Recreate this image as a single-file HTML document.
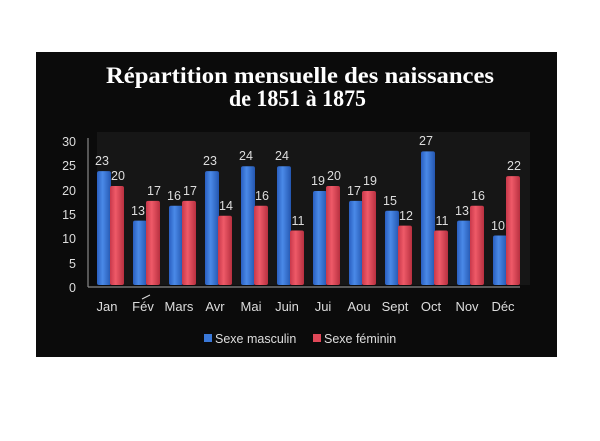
<!DOCTYPE html>
<html><head><meta charset="utf-8"><style>
body{margin:0;background:#fff;width:600px;height:436px;overflow:hidden}
</style></head><body>
<svg width="600" height="436" xmlns="http://www.w3.org/2000/svg">
<defs>
<linearGradient id="b" x1="0" x2="1"><stop offset="0" stop-color="#2a5fc0"/><stop offset="0.4" stop-color="#4a8ae8"/><stop offset="1" stop-color="#2456b0"/></linearGradient>
<linearGradient id="r" x1="0" x2="1"><stop offset="0" stop-color="#c8384a"/><stop offset="0.4" stop-color="#ef5a68"/><stop offset="1" stop-color="#b83040"/></linearGradient>
</defs>
<rect x="36" y="52" width="521" height="305" fill="#0b0b0b"/>
<rect x="97" y="132" width="433" height="153" fill="#161616"/>
<text x="106" y="83" textLength="388" lengthAdjust="spacingAndGlyphs" font-family="Liberation Serif" font-weight="bold" font-size="23" fill="#fff">Répartition mensuelle des naissances</text>
<text x="229" y="106" textLength="137" lengthAdjust="spacingAndGlyphs" font-family="Liberation Serif" font-weight="bold" font-size="23" fill="#fff">de 1851 à 1875</text>
<g font-family="Liberation Sans" font-size="12.5" fill="#ddd" text-anchor="end">
<text x="76" y="146">30</text><text x="76" y="170">25</text><text x="76" y="195">20</text><text x="76" y="219">15</text><text x="76" y="243">10</text><text x="76" y="268">5</text><text x="76" y="292">0</text>
</g>
<line x1="88" y1="138" x2="88" y2="287" stroke="#888" stroke-width="1.2"/>
<line x1="88" y1="287" x2="520" y2="287" stroke="#888" stroke-width="1.2"/>
<g>
<rect x="97" y="171.15" width="14" height="113.85" rx="2" fill="url(#b)"/>
<rect x="110" y="186" width="14" height="99" rx="2" fill="url(#r)"/>
<rect x="133" y="220.65" width="14" height="64.35" rx="2" fill="url(#b)"/>
<rect x="146" y="200.85" width="14" height="84.15" rx="2" fill="url(#r)"/>
<rect x="169" y="205.8" width="14" height="79.2" rx="2" fill="url(#b)"/>
<rect x="182" y="200.85" width="14" height="84.15" rx="2" fill="url(#r)"/>
<rect x="205" y="171.15" width="14" height="113.85" rx="2" fill="url(#b)"/>
<rect x="218" y="215.7" width="14" height="69.3" rx="2" fill="url(#r)"/>
<rect x="241" y="166.2" width="14" height="118.8" rx="2" fill="url(#b)"/>
<rect x="254" y="205.8" width="14" height="79.2" rx="2" fill="url(#r)"/>
<rect x="277" y="166.2" width="14" height="118.8" rx="2" fill="url(#b)"/>
<rect x="290" y="230.55" width="14" height="54.45" rx="2" fill="url(#r)"/>
<rect x="313" y="190.95" width="14" height="94.05" rx="2" fill="url(#b)"/>
<rect x="326" y="186" width="14" height="99" rx="2" fill="url(#r)"/>
<rect x="349" y="200.85" width="14" height="84.15" rx="2" fill="url(#b)"/>
<rect x="362" y="190.95" width="14" height="94.05" rx="2" fill="url(#r)"/>
<rect x="385" y="210.75" width="14" height="74.25" rx="2" fill="url(#b)"/>
<rect x="398" y="225.6" width="14" height="59.4" rx="2" fill="url(#r)"/>
<rect x="421" y="151.35" width="14" height="133.65" rx="2" fill="url(#b)"/>
<rect x="434" y="230.55" width="14" height="54.45" rx="2" fill="url(#r)"/>
<rect x="457" y="220.65" width="14" height="64.35" rx="2" fill="url(#b)"/>
<rect x="470" y="205.8" width="14" height="79.2" rx="2" fill="url(#r)"/>
<rect x="493" y="235.5" width="14" height="49.5" rx="2" fill="url(#b)"/>
<rect x="506" y="176.1" width="14" height="108.9" rx="2" fill="url(#r)"/>
</g>
<g font-family="Liberation Sans" font-size="12.5" fill="#ddd" text-anchor="middle">
<text x="102" y="165">23</text><text x="118" y="180">20</text>
<text x="138" y="215">13</text><text x="154" y="195">17</text>
<text x="174" y="200">16</text><text x="190" y="195">17</text>
<text x="210" y="165">23</text><text x="226" y="210">14</text>
<text x="246" y="160">24</text><text x="262" y="200">16</text>
<text x="282" y="160">24</text><text x="298" y="225">11</text>
<text x="318" y="185">19</text><text x="334" y="180">20</text>
<text x="354" y="195">17</text><text x="370" y="185">19</text>
<text x="390" y="205">15</text><text x="406" y="220">12</text>
<text x="426" y="145">27</text><text x="442" y="225">11</text>
<text x="462" y="215">13</text><text x="478" y="200">16</text>
<text x="498" y="230">10</text><text x="514" y="170">22</text>
</g>
<g font-family="Liberation Sans" font-size="13" fill="#ddd" text-anchor="middle">
<text x="107" y="311">Jan</text><text x="143" y="311">Fév</text><text x="179" y="311">Mars</text><text x="215" y="311">Avr</text><text x="251" y="311">Mai</text><text x="287" y="311">Juin</text><text x="323" y="311">Jui</text><text x="359" y="311">Aou</text><text x="395" y="311">Sept</text><text x="431" y="311">Oct</text><text x="467" y="311">Nov</text><text x="503" y="311">Déc</text>
</g>
<rect x="204" y="334" width="8" height="8" fill="#3a78d8"/>
<text x="215" y="343" font-family="Liberation Sans" font-size="12.5" fill="#ddd">Sexe masculin</text>
<rect x="313" y="334" width="8" height="8" fill="#e04858"/>
<text x="324" y="343" font-family="Liberation Sans" font-size="12.5" fill="#ddd">Sexe féminin</text>
<line x1="142" y1="299" x2="150" y2="295" stroke="#ddd" stroke-width="1"/>
</svg>
</body></html>
